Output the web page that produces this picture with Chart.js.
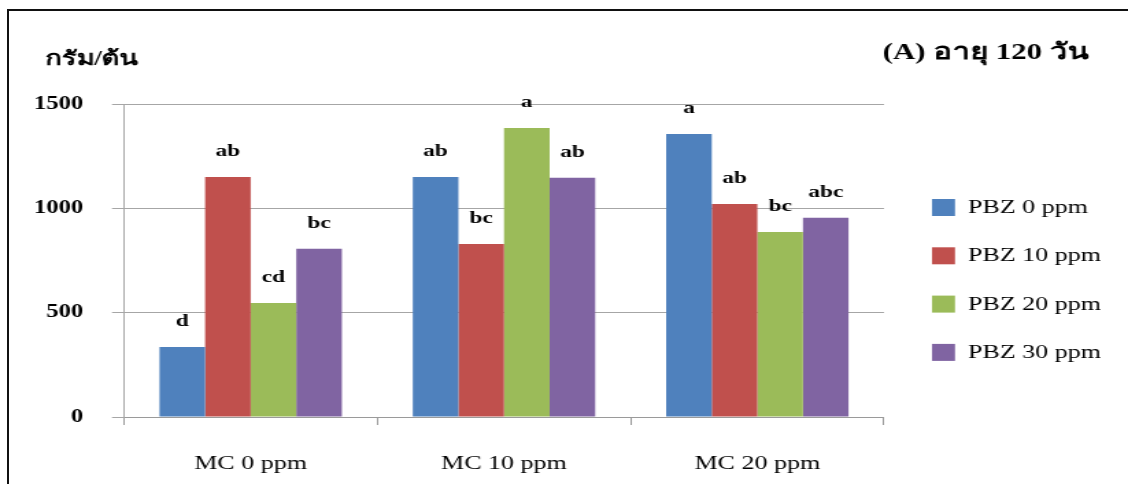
<!DOCTYPE html>
<html>
<head>
<meta charset="utf-8">
<script src="https://cdn.jsdelivr.net/npm/chart.js@4"></script>
<style>
html, body { margin: 0; padding: 0; background: #fff; overflow: hidden; }
#frame { position: absolute; left: 7px; top: 9px; width: 1200px; height: 600px; border: 2px solid #111; }
#bar { position: absolute; left: 0; top: 0; }
</style>
</head>
<body>
<div id="frame"></div>
<!-- the original picture is stretched sideways, so the canvas is too -->
<canvas id="bar" width="823" height="484" style="width:1128px;height:484px"></canvas>
<script>
var categories = ["MC 0 ppm", "MC 10 ppm", "MC 20 ppm"];
var seriesNames = ["PBZ 0 ppm", "PBZ 10 ppm", "PBZ 20 ppm", "PBZ 30 ppm"];
var pbz0 = [335, 1150, 1356];
var pbz10 = [1150, 829, 1021];
var pbz20 = [546, 1385, 887];
var pbz30 = [806, 1146, 955];
var letters0 = ["d", "ab", "a"];
var letters10 = ["ab", "bc", "ab"];
var letters20 = ["cd", "a", "bc"];
var letters30 = ["bc", "ab", "abc"];
var yTicks = [0, 500, 1000, 1500];
var colors = ['#4F81BD', '#C0504D', '#9BBB59', '#8064A2'];

var serif = '"Liberation Serif", "Times New Roman", serif';
var sx = 1128 / 823;  // horizontal stretch

var extras = {
    id: 'extras',
    afterDatasetsDraw: function(chart) {
        var ctx = chart.ctx;
        ctx.save();
        ctx.fillStyle = '#000';
        ctx.textBaseline = 'middle';

        // significance letters above each bar
        ctx.textAlign = 'center';
        ctx.font = 'bold 17px ' + serif;
        chart.data.datasets.forEach(function(ds, i) {
            chart.getDatasetMeta(i).data.forEach(function(bar, j) {
                ctx.fillText(ds.letters[j], bar.x, bar.y - 25);
            });
        });

        // unit label and title
        ctx.textAlign = 'left';
        ctx.font = 'bold 20px ' + serif;
        ctx.fillText('กรัม/ต้น', 45 / sx, 60);
        ctx.textAlign = 'right';
        ctx.font = 'bold 22.5px ' + serif;
        ctx.fillText('(A) อายุ 120 วัน', 1088 / sx, 53);

        // legend
        ctx.textAlign = 'left';
        ctx.font = '19px ' + serif;
        chart.data.datasets.forEach(function(ds, i) {
            var y = 207 + 48.3 * i;
            ctx.fillStyle = ds.backgroundColor;
            ctx.fillRect(932 / sx, y - 8, 23 / sx, 17);
            ctx.fillStyle = '#000';
            ctx.fillText(ds.label, 968 / sx, y + 1);
        });
        ctx.restore();
    }
};

var series = [pbz0, pbz10, pbz20, pbz30];
var letters = [letters0, letters10, letters20, letters30];

var ctx = document.getElementById("bar");
var bar = new Chart(ctx, {
    type: 'bar',
    data: {
        labels: categories,
        datasets: series.map(function(vals, i) {
            return {
                label: seriesNames[i],
                data: vals,
                letters: letters[i],
                backgroundColor: colors[i],
                borderWidth: 0,
                categoryPercentage: 0.72,
                barPercentage: 1.0
            };
        })
    },
    options: {
        responsive: false,
        animation: false,
        layout: {
            padding: { top: 104, right: 823 - 884 / sx, bottom: 0, left: 0 }
        },
        plugins: {
            legend: { display: false },
            tooltip: { enabled: false }
        },
        scales: {
            x: {
                afterFit: function(scale) { scale.height = 67; },
                grid: {
                    drawOnChartArea: false,
                    drawTicks: true,
                    tickLength: 8,
                    color: '#9a9a9a'
                },
                border: { color: '#9a9a9a' },
                ticks: {
                    padding: 28,
                    color: '#000',
                    font: { family: serif, size: 19 }
                }
            },
            y: {
                min: 0,
                max: 1500,
                afterFit: function(scale) { scale.width = 124 / sx; },
                afterBuildTicks: function(scale) {
                    scale.ticks = yTicks.map(function(v) { return { value: v }; });
                },
                grid: {
                    color: '#a6a6a6',
                    tickLength: 12 / sx
                },
                border: { color: '#a6a6a6' },
                ticks: {
                    padding: 21,
                    color: '#000',
                    font: { family: serif, size: 18, weight: 'bold' },
                    callback: function(v) { return String(v); }
                }
            }
        }
    },
    plugins: [extras]
});
</script>
</body>
</html>
